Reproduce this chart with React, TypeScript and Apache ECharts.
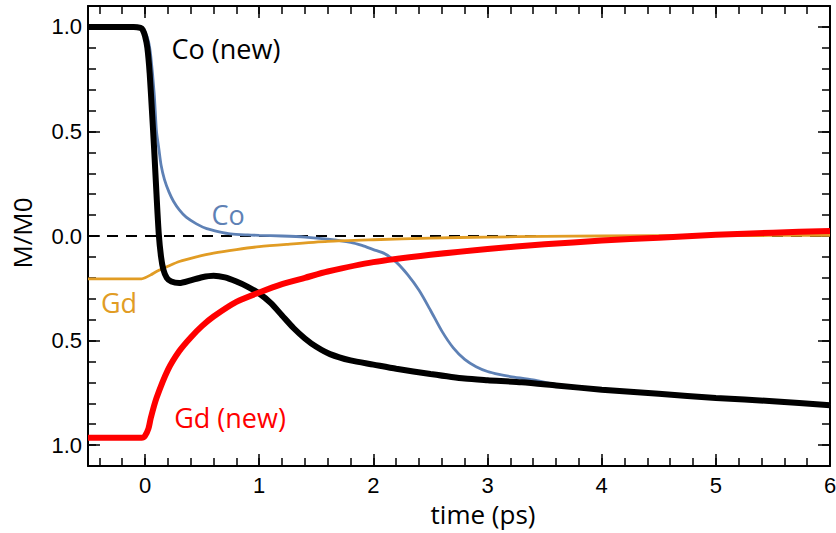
import React, { useEffect, useRef } from "react";
import * as echarts from "echarts";

// Co (new) — black thick
const coNewT = [-0.5, -0.1, -0.04, -0.02, 0.0, 0.02, 0.04, 0.06, 0.08, 0.1, 0.12, 0.14, 0.16, 0.19, 0.23, 0.3, 0.4, 0.5, 0.6, 0.7, 0.8, 0.9, 1.0, 1.1, 1.2, 1.3, 1.4, 1.5, 1.62, 1.8, 2.0, 2.2, 2.5, 2.8, 3.0, 3.3, 3.6, 4.0, 4.5, 5.0, 5.5, 6.0];
const coNewM = [1.0, 1.0, 0.995, 0.985, 0.955, 0.9, 0.78, 0.6, 0.41, 0.2, 0.01, -0.1, -0.16, -0.2, -0.218, -0.225, -0.212, -0.197, -0.19, -0.198, -0.218, -0.243, -0.275, -0.32, -0.38, -0.44, -0.49, -0.53, -0.565, -0.595, -0.615, -0.635, -0.66, -0.682, -0.69, -0.7, -0.715, -0.735, -0.755, -0.775, -0.79, -0.81];

// Co — blue
const coT = [-0.5, -0.05, 0.0, 0.03, 0.05, 0.08, 0.1, 0.12, 0.14, 0.17, 0.21, 0.25, 0.3, 0.36, 0.45, 0.54, 0.65, 0.75, 0.9, 1.0, 1.2, 1.4, 1.6, 1.8, 1.9, 2.0, 2.1, 2.2, 2.3, 2.4, 2.5, 2.6, 2.7, 2.8, 2.9, 3.0, 3.1, 3.2, 3.4, 3.6, 4.0, 5.0, 6.0];
const coM = [1.0, 1.0, 0.975, 0.93, 0.86, 0.68, 0.5, 0.42, 0.34, 0.27, 0.21, 0.165, 0.125, 0.09, 0.058, 0.035, 0.02, 0.01, 0.005, 0.003, 0.0, -0.005, -0.015, -0.03, -0.045, -0.065, -0.085, -0.125, -0.185, -0.26, -0.355, -0.455, -0.535, -0.59, -0.625, -0.648, -0.662, -0.672, -0.688, -0.71, -0.735, -0.775, -0.81];

// Gd — orange
const gdT = [-0.5, -0.03, 0.0, 0.05, 0.1, 0.2, 0.3, 0.45, 0.6, 0.8, 1.0, 1.24, 1.6, 2.0, 2.5, 3.0, 3.5, 4.0, 5.0, 6.0];
const gdM = [-0.205, -0.205, -0.2, -0.186, -0.17, -0.145, -0.122, -0.1, -0.082, -0.065, -0.051, -0.04, -0.026, -0.018, -0.01, -0.005, -0.002, 0.0, 0.002, 0.003];

// Gd (new) — red thick
const gdNewT = [-0.5, -0.03, 0.0, 0.03, 0.05, 0.1, 0.2, 0.3, 0.4, 0.5, 0.6, 0.8, 1.0, 1.2, 1.4, 1.6, 2.0, 2.5, 3.0, 3.5, 4.0, 4.5, 5.0, 5.5, 6.0];
const gdNewM = [-0.965, -0.965, -0.955, -0.92, -0.87, -0.775, -0.64, -0.55, -0.485, -0.43, -0.385, -0.315, -0.27, -0.23, -0.2, -0.17, -0.125, -0.09, -0.062, -0.04, -0.022, -0.008, 0.006, 0.016, 0.024];

const xMajor = [0, 1, 2, 3, 4, 5, 6];
const yMajor = [-1, -0.5, 0, 0.5, 1];
const xMinor: number[] = [];
for (let i = -2; i <= 30; i++) xMinor.push(Math.round(i * 0.2 * 100) / 100);
const yMinor: number[] = [];
for (let i = -10; i <= 10; i++) yMinor.push(Math.round(i * 0.1 * 100) / 100);

const zip = (t: number[], m: number[]) => t.map((v, i) => [v, m[i]]);

const BLUE = "#5E81B5";
const ORANGE = "#E19C24";
const RED = "#FF0000";
const TICK_FONT = "Liberation Sans";
const TEXT_FONT = "Open Sans";

export default function App() {
  const ref = useRef<HTMLDivElement>(null);
  useEffect(() => {
    if (!ref.current) return;
    const chart = echarts.init(ref.current, undefined, { renderer: "svg" });
    const frame = { onZero: false, lineStyle: { color: "#000", width: 2 } };
    const noLine = { show: false, onZero: false };
    const tickStyle = { color: "#000", width: 1.5 };
    const xBase = { type: "value", min: -0.5, max: 6, splitLine: { show: false } };
    const yBase = { type: "value", min: -1.1, max: 1.1, splitLine: { show: false } };
    const curve = { type: "line", showSymbol: false, smooth: 0.25 };
    chart.setOption({
      animation: false,
      backgroundColor: "#fff",
      grid: { left: 88, top: 6, width: 742, height: 460, containLabel: false, outerBoundsMode: "none" },
      xAxis: [
        { ...xBase, position: "bottom", axisLine: frame,
          axisTick: { inside: true, length: 12, customValues: xMajor, lineStyle: tickStyle },
          axisLabel: { customValues: xMajor, fontSize: 22, color: "#000", fontFamily: TICK_FONT, margin: 8 } },
        { ...xBase, position: "bottom", axisLine: noLine,
          axisTick: { inside: true, length: 8, customValues: xMinor, lineStyle: tickStyle }, axisLabel: { show: false } },
        { ...xBase, position: "top", axisLine: frame,
          axisTick: { inside: true, length: 12, customValues: xMajor, lineStyle: tickStyle }, axisLabel: { show: false } },
        { ...xBase, position: "top", axisLine: noLine,
          axisTick: { inside: true, length: 8, customValues: xMinor, lineStyle: tickStyle }, axisLabel: { show: false } },
      ],
      yAxis: [
        { ...yBase, position: "left", axisLine: frame,
          axisTick: { inside: true, length: 12, customValues: yMajor, lineStyle: tickStyle },
          axisLabel: { customValues: yMajor, fontSize: 22, color: "#000", fontFamily: TICK_FONT, margin: 6,
            formatter: (v: number) => Math.abs(v).toFixed(1) } },
        { ...yBase, position: "left", axisLine: noLine,
          axisTick: { inside: true, length: 8, customValues: yMinor, lineStyle: tickStyle }, axisLabel: { show: false } },
        { ...yBase, position: "right", axisLine: frame,
          axisTick: { inside: true, length: 12, customValues: yMajor, lineStyle: tickStyle }, axisLabel: { show: false } },
        { ...yBase, position: "right", axisLine: noLine,
          axisTick: { inside: true, length: 8, customValues: yMinor, lineStyle: tickStyle }, axisLabel: { show: false } },
      ],
      series: [
        { type: "line", name: "zero", data: [[-0.5, 0], [6, 0]], showSymbol: false, silent: true,
          lineStyle: { color: "#000", width: 2, type: [11, 8] } },
        { ...curve, name: "Co", data: zip(coT, coM), lineStyle: { color: BLUE, width: 2.8 } },
        { ...curve, name: "Gd", data: zip(gdT, gdM), lineStyle: { color: ORANGE, width: 2.8 } },
        { ...curve, name: "Co (new)", data: zip(coNewT, coNewM), lineStyle: { color: "#000", width: 6 } },
        { ...curve, name: "Gd (new)", data: zip(gdNewT, gdNewM), lineStyle: { color: RED, width: 6 } },
      ],
      graphic: [
        { type: "text", x: 226, y: 48, style: { text: "Co (new)", fill: "#000", font: `27px "${TEXT_FONT}"`, textAlign: "center", textVerticalAlign: "middle" } },
        { type: "text", x: 228, y: 214, style: { text: "Co", fill: BLUE, font: `27px "${TEXT_FONT}"`, textAlign: "center", textVerticalAlign: "middle" } },
        { type: "text", x: 119, y: 302, style: { text: "Gd", fill: ORANGE, font: `27px "${TEXT_FONT}"`, textAlign: "center", textVerticalAlign: "middle" } },
        { type: "text", x: 230, y: 417, style: { text: "Gd (new)", fill: RED, font: `27px "${TEXT_FONT}"`, textAlign: "center", textVerticalAlign: "middle" } },
        { type: "text", x: 483, y: 514, style: { text: "time (ps)", fill: "#000", font: `26px "${TEXT_FONT}"`, textAlign: "center", textVerticalAlign: "middle" } },
        { type: "text", x: 22, y: 233, rotation: Math.PI / 2, style: { text: "M/M0", fill: "#000", font: `26px "${TEXT_FONT}"`, textAlign: "center", textVerticalAlign: "middle" } },
      ],
    });
    return () => chart.dispose();
  }, []);
  return <div ref={ref} style={{ position: "fixed", left: 0, top: 0, width: 836, height: 533 }} />;
}
